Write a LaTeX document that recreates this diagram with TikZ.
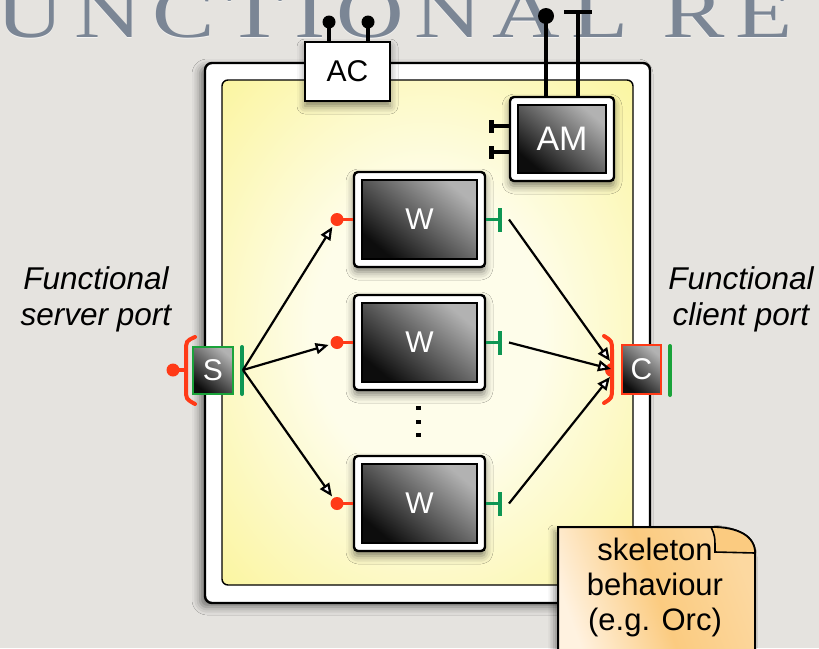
\documentclass[tikz,border=0pt]{standalone}
\usepackage{fontspec}
\setmainfont{Liberation Sans}
\newfontfamily\titlefont[FakeStretch=1.3,LetterSpace=15]{Liberation Serif}
\usetikzlibrary{arrows.meta,shadows.blur}

\definecolor{paper}{HTML}{E5E3DF}
\definecolor{titleblue}{HTML}{7B8695}
\definecolor{portred}{HTML}{FF3A17}
\definecolor{portgreen}{HTML}{0E9653}
\definecolor{bargreen}{HTML}{1AA33A}
\definecolor{panelyellow}{HTML}{FAF283}
\definecolor{panelpale}{HTML}{FEFDEA}
\definecolor{notelight}{HTML}{FFF2E0}
\definecolor{noteorange}{HTML}{FBCB80}

\pgfdeclareradialshading{panelglow}{\pgfpoint{0bp}{0bp}}{%
  color(0bp)=(panelpale); color(14bp)=(panelpale);
  color(44bp)=(panelyellow); color(70bp)=(panelyellow)}

\tikzset{
  frameshadow/.style={blur shadow={shadow xshift=-5pt,shadow yshift=-4pt,
      shadow blur radius=8pt,shadow opacity=50}},
  boxshadow/.style={blur shadow={shadow xshift=0pt,shadow yshift=-5pt,
      shadow blur radius=8pt,shadow opacity=50}},
  outerframe/.style={draw=black,line width=2.4pt,fill=white,
      rounded corners=7pt,frameshadow},
  panel/.style={draw=black,line width=1.4pt,rounded corners=6pt,
      shade,shading=panelglow},
  whitebox/.style={draw=black,line width=2.4pt,fill=white,
      rounded corners=4pt,inner sep=0pt,boxshadow},
  core/.style={draw=black,line width=1.6pt,top color=black!30,
      bottom color=black!95,shading angle=-40,text=white,inner sep=0pt,
      font=\fontsize{30}{30}\selectfont},
  acbox/.style={draw=black,line width=2.4pt,fill=white,inner sep=0pt,
      minimum width=85pt,minimum height=59pt,
      font=\fontsize{30}{30}\selectfont,boxshadow},
  blackdot/.style={circle,fill=black,inner sep=0pt,minimum size=13pt},
  reddot/.style={circle,fill=portred,inner sep=0pt,minimum size=13pt},
  blackwire/.style={draw=black,line width=4.2pt},
  redwire/.style={draw=portred,line width=3.5pt},
  greenwire/.style={draw=portgreen,line width=3.5pt},
  greenbar/.style={draw=portgreen,line width=4.5pt},
  sidebar/.style={line width=4pt,line cap=round},
  bracket/.style={draw=portred,line width=4pt,line cap=round},
  flow/.style={draw=black,line width=2.2pt,shorten >=2pt,
      -{Triangle[length=13pt,width=11pt,fill=white]}},
  portlabel/.style={align=center,inner sep=0pt,
      font=\fontsize{31.5}{36}\selectfont\itshape},
  notetext/.style={align=center,inner sep=0pt,
      font=\fontsize{31}{35}\selectfont},
}

\begin{document}
\begin{tikzpicture}[x=1pt,y=-1pt]
\useasboundingbox (0,0) rectangle (819,648);
\clip (0,0) rectangle (819,648);
\fill[paper] (0,0) rectangle (819,648);

% slide title, running past the page edges
\node[anchor=base west,inner sep=0pt,text=white,opacity=0.6,
      font=\titlefont\fontsize{72}{72}\selectfont] (titlehl) at (-4,38.5) {UNCTIONAL RE};
\node[anchor=base west,inner sep=0pt,text=titleblue,
      font=\titlefont\fontsize{72}{72}\selectfont] (title) at (-4,37) {UNCTIONAL RE};

% component membrane and content area
\node[outerframe,minimum width=445pt,minimum height=540pt] (frame) at (427.5,333) {};
\node[panel,minimum width=411pt,minimum height=505pt] (panel) at (427.5,332.5) {};

% AC controller with its two ports
\node[acbox] (ac) at (347.5,71.5) {AC};
\node[blackdot] (acd1) at (329,22) {};
\node[blackdot] (acd2) at (368,22) {};
\draw[draw=black,line width=3.5pt] (ac.north -| acd1) -- (acd1.center);
\draw[draw=black,line width=3.5pt] (ac.north -| acd2) -- (acd2.center);

% AM manager
\node[whitebox,minimum width=104pt,minimum height=84pt] (amf) at (562,139) {};
\node[core,minimum width=88pt,minimum height=68pt,
      font=\fontsize{34}{34}\selectfont] (am) at (562,139) {AM};
\node[blackdot,minimum size=16pt] (amd) at (546,16) {};
\draw[blackwire] (amf.north -| amd) -- (amd.center);
\coordinate (amt) at (578,12);
\draw[blackwire] (amf.north -| amt) -- (amt);
\draw[blackwire] ([xshift=-14pt]amt) -- ([xshift=14pt]amt);
\foreach \k/\yy in {1/126,2/152}{
  \coordinate (ams\k) at (491,\yy);
  \draw[blackwire] (amf.west |- ams\k) -- (ams\k);
  \draw[blackwire,line width=5pt] ([yshift=-6.5pt]ams\k) -- ([yshift=6.5pt]ams\k);
}

% worker boxes with their ports
\foreach \i/\yy in {1/219.5,2/342.5,3/503.5}{
  \node[whitebox,minimum width=131pt,minimum height=95pt] (wf\i) at (419.5,\yy) {};
  \node[core,minimum width=115pt,minimum height=79pt] (w\i) at (419.5,\yy) {W};
  \node[reddot] (wd\i) at (337,\yy) {};
  \draw[redwire] (wf\i.west) -- (wd\i.center);
  \coordinate (wt\i) at (500,\yy);
  \draw[greenwire] (wf\i.east) -- (wt\i);
  \draw[greenbar] ([yshift=-12pt]wt\i) -- ([yshift=12pt]wt\i);
  \coordinate (wo\i) at (509,\yy);
}

% more workers
\foreach \yy in {408,422,435}
  \fill (416.2,\yy-2.2) rectangle (420.6,\yy+2.2);

% server port S
\draw[bracket] (195,337) .. controls (186,341) .. (186,352) -- (186,389)
               .. controls (186,399) .. (195,404);
\node[reddot] (sd) at (173,370) {};
\draw[redwire] (sd.center) -- (186,370);
\node[core,draw=bargreen,line width=2pt,minimum width=40pt,minimum height=47pt]
      (s) at (213,370.5) {S};
\draw[sidebar,draw=portgreen] (242,347) -- (242,394);
\coordinate (sout) at (243,370);

% client port C
\begin{scope}
  \clip (598,355) rectangle (612,385);
  \fill[portred] (612,370) circle (7);
\end{scope}
\draw[bracket] (604,336) .. controls (612,341) .. (612,351) -- (612,388)
               .. controls (612,398) .. (604,403);
\node[core,draw=portred,line width=2pt,minimum width=39pt,minimum height=49pt]
      (c) at (641.5,369.5) {C};
\draw[sidebar,draw=bargreen] (670,346) -- (670,395);
\coordinate (ci1) at (610,361);
\coordinate (ci2) at (611,369);
\coordinate (ci3) at (610,377);

% skeleton flows
\foreach \i in {1,2,3}
  \draw[flow] (sout) -- (wd\i);
\foreach \i in {1,2,3}
  \draw[flow,shorten >=0pt] (wo\i) -- (ci\i);

% port captions
\node[portlabel,anchor=north] (srvlbl) at (96,266.5) {Functional\\server port};
\node[portlabel,anchor=north] (clilbl) at (741,266.5) {Functional\\client port};

% note sheet
\path[draw=black,line width=2pt,left color=notelight,right color=noteorange!75!white,
      middle color=noteorange,shading angle=110,
      blur shadow={shadow xshift=-4pt,shadow yshift=-4pt,
      shadow blur radius=6pt,shadow opacity=40}]
  (558,527) -- (711,527) .. controls (738,527) and (755,536) .. (755,553)
  -- (755,660) -- (558,660) -- cycle;
\draw[line width=1.6pt,fill=noteorange]
  (711,527) .. controls (715,536) .. (715,552) -- (755,553)
  .. controls (755,536) and (738,527) .. (711,527) -- cycle;
\node[notetext,anchor=north] (note) at (655,538) {skeleton\\behaviour\\(e.g. Orc)};
\end{tikzpicture}
\end{document}
